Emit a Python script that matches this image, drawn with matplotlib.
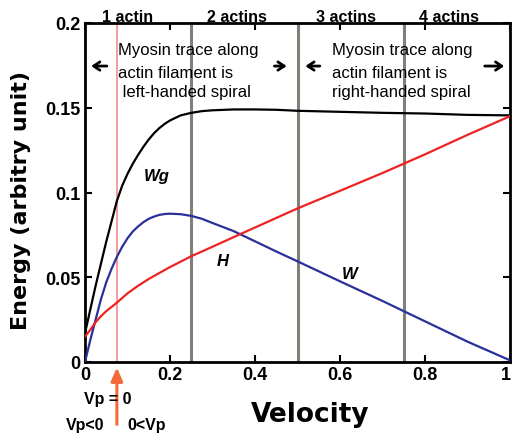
import matplotlib
matplotlib.use("Agg")
import matplotlib.pyplot as plt
from matplotlib.transforms import ScaledTranslation

# ---- data ----
wg_x = [0, 0.0125, 0.025, 0.0375, 0.05, 0.0625, 0.075, 0.0875, 0.1, 0.1125, 0.125,
        0.1375, 0.15, 0.1625, 0.175, 0.1875, 0.2, 0.225, 0.25, 0.275, 0.3, 0.35,
        0.4, 0.45, 0.5, 0.6, 0.7, 0.8, 0.9, 1.0]
wg_y = [0.017, 0.031, 0.045, 0.058, 0.071, 0.083, 0.095, 0.104, 0.111, 0.117, 0.1222,
        0.127, 0.1313, 0.135, 0.138, 0.1405, 0.1425, 0.1455, 0.147, 0.148,
        0.1485, 0.149, 0.149, 0.1488, 0.1482, 0.1476, 0.147, 0.1466, 0.1458, 0.1455]

w_x = [0, 0.0125, 0.025, 0.0375, 0.05, 0.0625, 0.075, 0.0875, 0.1, 0.1125, 0.125,
       0.1375, 0.15, 0.1625, 0.175, 0.1875, 0.2, 0.225, 0.25, 0.275, 0.3, 0.35, 0.4,
       0.45, 0.5, 0.55, 0.6, 0.65, 0.7, 0.75, 0.8, 0.9, 1.0]
w_y = [0.0, 0.013, 0.025, 0.037, 0.047, 0.055, 0.062, 0.068, 0.073, 0.077, 0.080,
       0.0825, 0.0845, 0.0858, 0.0868, 0.0873, 0.0875, 0.0872, 0.0862, 0.0845,
       0.082, 0.0772, 0.0712, 0.0652, 0.0594, 0.0535, 0.0476, 0.0418, 0.036, 0.030,
       0.024, 0.012, 0.001]

h_x = [0, 0.0125, 0.025, 0.0375, 0.05, 0.0625, 0.075, 0.1, 0.125, 0.15, 0.2, 0.25,
       0.3, 0.364, 0.5, 0.6, 0.7, 0.75, 0.8, 0.9, 1.0]
h_y = [0.015, 0.019, 0.0235, 0.027, 0.030, 0.0325, 0.035, 0.0405, 0.045, 0.049,
       0.056, 0.0624, 0.068, 0.0753, 0.0906, 0.101, 0.1115, 0.117, 0.1225, 0.134, 0.145]

vp_zero = 0.075
actin_lines = [0.25, 0.5, 0.75]
top_labels = ["1 actin", "2 actins", "3 actins", "4 actins"]
top_label_x = [0.10, 0.357, 0.615, 0.857]

x_ticks = [0, 0.2, 0.4, 0.6, 0.8, 1.0]
x_ticklabels = ["0", "0.2", "0.4", "0.6", "0.8", "1"]
y_ticks = [0, 0.05, 0.1, 0.15, 0.2]
y_ticklabels = ["0", "0.05", "0.1", "0.15", "0.2"]

fig = plt.figure(figsize=(5.13, 4.39), dpi=100)
ax = fig.add_axes([85/513, 1-363/439, 425/513, 339/439])

ax.set_xlim(0, 1)
ax.set_ylim(0, 0.2)

# vertical lines
ax.axvline(vp_zero, color="#f4a0a0", lw=1.5, zorder=1)
for xv in actin_lines:
    ax.axvline(xv, color="#7f8076", lw=2.2, zorder=1)

ax.plot(wg_x, wg_y, color="black", lw=1.6, zorder=3)
ax.plot(w_x, w_y, color="#2b2f9a", lw=1.6, zorder=3)
ax.plot(h_x, h_y, color="#ee2222", lw=1.6, zorder=3)

lab_font = dict(family="Liberation Sans", weight="bold", style="italic", fontsize=12)
ax.text(0.169, 0.110, "Wg", ha="center", va="center", **lab_font)
ax.text(0.325, 0.0596, "H", ha="center", va="center", **lab_font)
ax.text(0.622, 0.052, "W", ha="center", va="center", **lab_font)

# top labels
for lbl, xv in zip(top_labels, top_label_x):
    ax.text(xv, 1.006, lbl, transform=ax.get_xaxis_transform(), ha="center",
            va="baseline", family="Liberation Sans", weight="bold", fontsize=11.5)

# Myosin texts
txt = dict(family="Liberation Sans", fontsize=12, ha="left", va="baseline")
lines1 = ["Myosin trace along", "actin filament is", " left-handed spiral"]
lines2 = ["Myosin trace along", "actin filament is", "right-handed spiral"]
line_y = [0.1817, 0.1681, 0.1569]
for s, yv in zip(lines1, line_y):
    ax.text(0.0775, yv, s, **txt)
for s, yv in zip(lines2, line_y):
    ax.text(0.58, yv, s, **txt)

arr = dict(arrowstyle="->,head_length=0.45,head_width=0.3", color="black", lw=2)
ay = 0.1746
ax.annotate("", xy=(0.008, ay), xytext=(0.058, ay), arrowprops=arr)
ax.annotate("", xy=(0.481, ay), xytext=(0.439, ay), arrowprops=arr)
ax.annotate("", xy=(0.512, ay), xytext=(0.559, ay), arrowprops=arr)
ax.annotate("", xy=(0.993, ay), xytext=(0.934, ay), arrowprops=arr)

# red arrow below axis
trans = ax.get_xaxis_transform()
ax.annotate("", xy=(vp_zero, -0.008), xytext=(vp_zero, -0.192), xycoords=trans,
            textcoords=trans,
            arrowprops=dict(arrowstyle="-|>,head_length=0.8,head_width=0.35",
                            color="#f26a3a", lw=2.2), annotation_clip=False)
vp = dict(family="Liberation Sans", weight="bold", fontsize=11.5, ha="center",
          va="center", transform=trans, clip_on=False)
ax.text(0.054, -0.109, "Vp = 0", **vp)
ax.text(0.0, -0.183, "Vp<0", **vp)
ax.text(0.146, -0.183, "0<Vp", **vp)

# axes styling
ax.set_xticks(x_ticks)
ax.set_xticklabels(x_ticklabels)
ax.set_yticks(y_ticks)
ax.set_yticklabels(y_ticklabels)
ax.tick_params(direction="in", top=True, right=True, length=5, width=1.5, pad=3)
for t in ax.get_xticklabels() + ax.get_yticklabels():
    t.set_family("Liberation Sans")
    t.set_weight("bold")
    t.set_fontsize(13)
for sp in ax.spines.values():
    sp.set_linewidth(2)
# nudge last x tick label so it stays inside the figure
last = ax.get_xticklabels()[-1]
last.set_transform(last.get_transform() + ScaledTranslation(-3/72, 0, fig.dpi_scale_trans))

ax.set_xlabel("Velocity", family="DejaVu Sans", weight="bold", fontsize=19)
ax.xaxis.set_label_coords(0.53, -0.115)
ax.set_ylabel("Energy (arbitry unit)", family="DejaVu Sans", weight="bold", fontsize=16)
ax.yaxis.set_label_coords(-0.128, 0.48)

fig.savefig("out.png", dpi=100)
